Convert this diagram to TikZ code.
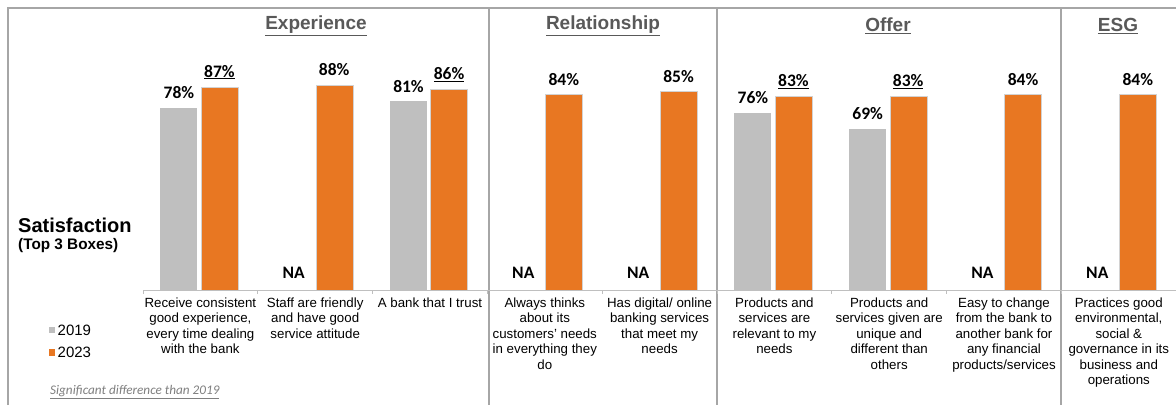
\documentclass[tikz,border=0pt]{standalone}
\usepackage{fontspec}
\newfontfamily\arial{Liberation Sans}
\newfontfamily\calibri{Carlito}
\definecolor{bargray}{HTML}{BFBFBF}
\definecolor{barorange}{HTML}{E87722}
\definecolor{framegray}{HTML}{A6A6A6}
\definecolor{headgray}{HTML}{595959}
\definecolor{notegray}{HTML}{7F7F7F}
\tikzset{
  pct/.style={font=\calibri\bfseries\fontsize{17.5}{20}\selectfont, inner sep=0pt},
  head/.style={font=\arial\bfseries\fontsize{19}{22}\selectfont, text=headgray, inner sep=0pt},
  catlab/.style={font=\arial\fontsize{13.3}{15.5}\selectfont, align=center, anchor=north, inner sep=0pt},
  framel/.style={draw=framegray, line width=1.2pt},
}
\begin{document}
\begin{tikzpicture}[x=1pt,y=-1pt]
\useasboundingbox (0,0) rectangle (1176,405);
\fill[white] (0,0) rectangle (1176,405);
% frame and separators
\draw[framel] (8,405) -- (8,8) -- (1176,8);
\foreach \sx in {489,717,1061} \draw[framel] (\sx,8) -- (\sx,405);
% headers
\node[head] (hExp) at (316,26) {\underline{Experience}};
\node[head] (hRel) at (603,26) {\underline{Relationship}};
\node[head] (hOff) at (888,26) {\underline{Offer}};
\node[head] (hEsg) at (1118,26) {\underline{ESG}};
% left titles
\node[font=\arial\bfseries\fontsize{20}{24}\selectfont, anchor=west, inner sep=0pt] (sat) at (18,225) {Satisfaction};
\node[font=\arial\bfseries\fontsize{15.3}{18}\selectfont, anchor=west, inner sep=0pt] (top3) at (18,245.5) {(Top 3 Boxes)};
% legend
\fill[bargray] (48.5,326.5) rectangle (55,333);
\fill[barorange] (48.5,349) rectangle (55,355.5);
\node[font=\arial\fontsize{15}{18}\selectfont, anchor=west, inner sep=0pt] (l19) at (57.5,330) {2019};
\node[font=\arial\fontsize{15}{18}\selectfont, anchor=west, inner sep=0pt] (l23) at (57.5,352) {2023};
\node[font=\calibri\itshape\fontsize{13.2}{15}\selectfont, text=notegray, anchor=west, inner sep=0pt] (note) at (50,392) {\underline{Significant difference than 2019}};
% axis
\draw[draw=bargray, line width=1pt] (143,290) -- (1176,290);
\foreach \k in {0,...,9} \draw[draw=bargray, line width=1pt] ({143+\k*114.8},290) -- ({143+\k*114.8},294);
% bars
\foreach \i/\g/\o/\u in {0/78/87/1,1/-1/88/0,2/81/86/1,3/-1/84/0,4/-1/85/0,5/76/83/1,6/69/83/1,7/-1/84/0,8/-1/84/0}{
  \pgfmathsetmacro\c{143+\i*114.8+57.4}
  \pgfmathsetmacro\ot{290-2.333*\o}
  \fill[barorange] (\c+0.5,290) rectangle (\c+37.5,\ot);
  \draw[draw=bargray!70, line width=0.4pt] (\c+0.5,290) -- (\c+0.5,\ot) -- (\c+37.5,\ot) -- (\c+37.5,290);
  \ifnum\u=1
    \node[pct] (o\i) at (\c+19,\ot-15) {\underline{\o\%}};
  \else
    \node[pct] (o\i) at (\c+19,\ot-15) {\o\%};
  \fi
  \ifnum\g<0
    \node[pct] (g\i) at (\c-21.5,273) {NA};
  \else
    \pgfmathsetmacro\gt{290-2.333*\g}
    \fill[bargray] (\c-40,290) rectangle (\c-3,\gt);
    \node[pct] (g\i) at (\c-21.5,\gt-15) {\g\%};
  \fi
}
% category labels
\node[catlab] (c0) at (200.4,297.5) {Receive consistent\\good experience,\\every time dealing\\with the bank};
\node[catlab] (c1) at (315.2,297.5) {Staff are friendly\\and have good\\service attitude};
\node[catlab] (c2) at (430.0,297.5) {A bank that I trust};
\node[catlab] (c3) at (544.8,297.5) {Always thinks\\about its\\customers’ needs\\in everything they\\do};
\node[catlab] (c4) at (659.6,297.5) {Has digital/ online\\banking services\\that meet my\\needs};
\node[catlab] (c5) at (774.4,297.5) {Products and\\services are\\relevant to my\\needs};
\node[catlab] (c6) at (889.2,297.5) {Products and\\services given are\\unique and\\different than\\others};
\node[catlab] (c7) at (1004.0,297.5) {Easy to change\\from the bank to\\another bank for\\any financial\\products/services};
\node[catlab] (c8) at (1118.8,297.5) {Practices good\\environmental,\\social \&\\governance in its\\business and\\operations};
\end{tikzpicture}
\end{document}
